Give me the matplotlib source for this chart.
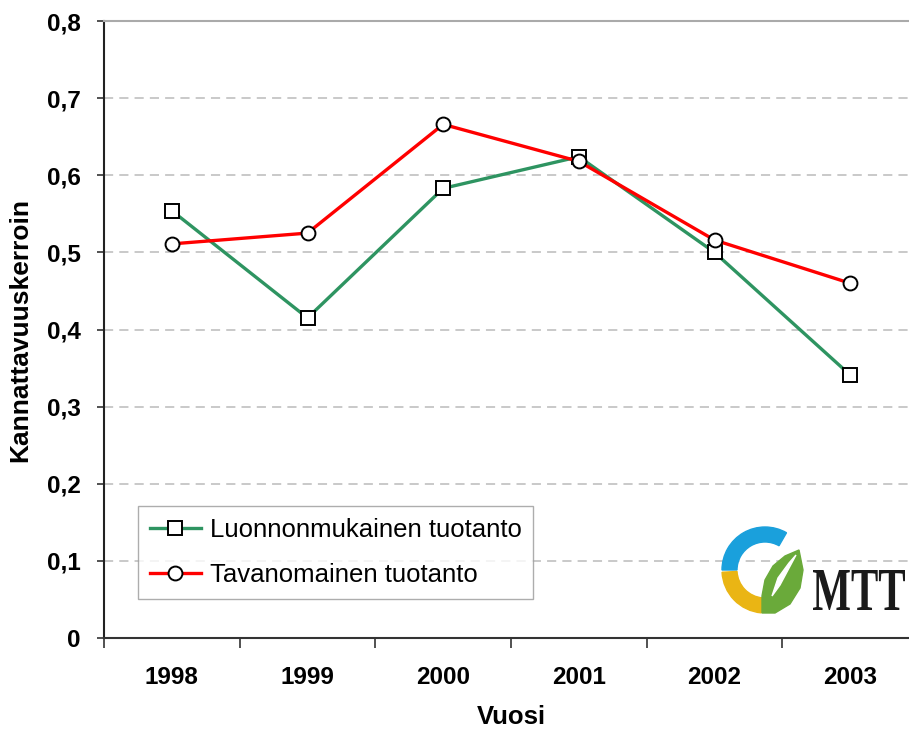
import matplotlib
matplotlib.use("Agg")
import matplotlib.pyplot as plt
from matplotlib.patches import Wedge, Polygon, PathPatch
from matplotlib.textpath import TextPath
from matplotlib.font_manager import FontProperties
from matplotlib.transforms import Affine2D

# data
years = ["1998", "1999", "2000", "2001", "2002", "2003"]
luonnonmukainen = [0.554, 0.415, 0.583, 0.624, 0.500, 0.341]
tavanomainen = [0.511, 0.525, 0.666, 0.618, 0.516, 0.460]
y_ticks = [0, 0.1, 0.2, 0.3, 0.4, 0.5, 0.6, 0.7, 0.8]
y_tick_labels = ["0", "0,1", "0,2", "0,3", "0,4", "0,5", "0,6", "0,7", "0,8"]

plt.rcParams["font.family"] = ["Liberation Sans", "DejaVu Sans"]

W, H = 909, 733
fig = plt.figure(figsize=(W / 100, H / 100), dpi=100)

# plot area: x 104..918 px, y 21..638 px (right edge runs off the image)
ax = fig.add_axes([104 / W, 1 - 638 / H, (918 - 104) / W, (638 - 21) / H])

x = list(range(len(years)))
ax.plot(x, luonnonmukainen, color="#2e9461", lw=2.4, marker="s", ms=10,
        mfc="white", mec="black", mew=1.4, label="Luonnonmukainen tuotanto", zorder=3)
ax.plot(x, tavanomainen, color="#ff0000", lw=2.4, marker="o", ms=10,
        mfc="white", mec="black", mew=1.4, label="Tavanomainen tuotanto", zorder=4)

ax.set_xlim(-0.5, len(years) - 0.5)
ax.set_ylim(0, 0.8)

# category axis: labels at centres, ticks on boundaries
ax.set_xticks(x)
ax.set_xticklabels(years, fontsize=17.5, fontweight="bold")
ax.set_xticks([i - 0.5 for i in range(len(years) + 1)], minor=True)
ax.tick_params(axis="x", which="major", length=0, pad=20)
ax.tick_params(axis="x", which="minor", length=7, width=1.2, color="#333333", direction="out")

ax.set_yticks(y_ticks)
ax.set_yticklabels(y_tick_labels, fontsize=17.5, fontweight="bold")
ax.tick_params(axis="y", length=5, width=1.2, color="#333333", direction="out", pad=12)

for v in y_ticks[1:-1]:
    ax.axhline(v, color="#bbbbbb", lw=1.1, ls=(0, (6, 4)), zorder=1)

ax.spines["right"].set_visible(False)
ax.spines["top"].set_color("#aaaaaa")
ax.spines["top"].set_linewidth(1.5)
ax.spines["left"].set_color("#222222")
ax.spines["left"].set_linewidth(1.5)
ax.spines["bottom"].set_color("#333333")
ax.spines["bottom"].set_linewidth(1.5)

ax.set_xlabel("Vuosi", fontsize=18.5, fontweight="bold", labelpad=12)
ax.set_ylabel("Kannattavuuskerroin", fontsize=19, fontweight="bold", labelpad=10)

leg = fig.legend(loc="upper left", bbox_to_anchor=(138 / W, 1 - 506 / H),
                 fontsize=18.5, frameon=True, fancybox=False, handlelength=2.0,
                 handletextpad=0.35, borderpad=0.45, labelspacing=0.85,
                 borderaxespad=0)
leg.get_frame().set_edgecolor("#999999")
leg.get_frame().set_linewidth(1.0)

# MTT logo, drawn on an overlay in pixel coordinates
lx = fig.add_axes([0, 0, 1, 1])
lx.set_xlim(0, W)
lx.set_ylim(H, 0)
lx.axis("off")
cx, cy = 765, 570
lx.add_patch(Wedge((cx, cy), 43, 180, 300, width=15, color="#1aa0dc"))
lx.add_patch(Wedge((cx, cy), 43, 95, 177, width=15, color="#eab514"))
leaf = [(762, 613), (775, 613), (790, 604), (800, 588), (803, 570), (799, 550),
        (785, 556), (773, 566), (765, 580), (762, 596)]
lx.add_patch(Polygon(leaf, closed=True, color="#6aaa3a"))
vein = [(772, 596), (778, 578), (789, 563), (796, 555), (788, 570), (780, 585)]
lx.add_patch(Polygon(vein, closed=True, color="white"))
tp = TextPath((0, 0), "MTT", size=40,
              prop=FontProperties(family="Liberation Serif", weight="bold"))
bb = tp.get_extents()
tr = Affine2D().translate(-bb.x0, -bb.y0).scale(92 / bb.width, -40 / bb.height).translate(813, 610)
lx.add_patch(PathPatch(tr.transform_path(tp), color="#1a1a1a", lw=0))

fig.savefig("out.png", dpi=100)
